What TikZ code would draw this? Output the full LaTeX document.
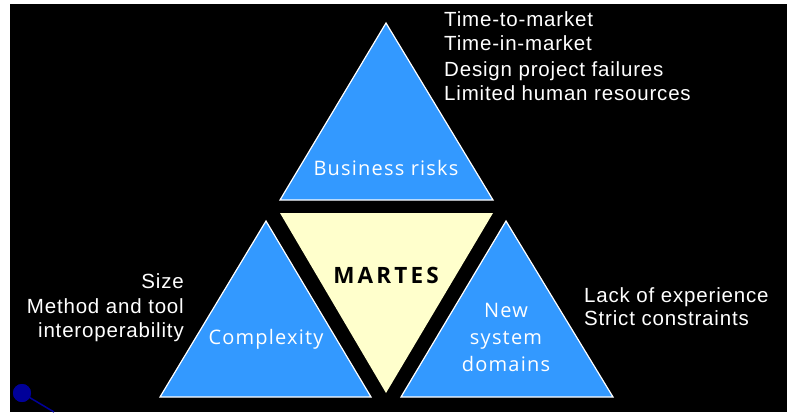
\documentclass[tikz,border=0pt]{standalone}
\usepackage{fontspec}
\setmainfont{Liberation Sans}
\newfontfamily\trifont{Open Sans}
\definecolor{triblue}{HTML}{3399FF}
\definecolor{martesyellow}{HTML}{FFFFCC}
\definecolor{pinblue}{HTML}{000099}
\begin{document}
\begin{tikzpicture}[x=1pt,y=-1pt,
  tri/.style={fill=triblue, draw=white, line width=1.2pt, line join=miter},
  trilabel/.style={text=white, inner sep=0pt, font=\trifont\addfontfeature{LetterSpace=6}\fontsize{20}{24}\selectfont},
  martes/.style={text=black, inner sep=0pt, font=\trifont\bfseries\addfontfeature{LetterSpace=14}\fontsize{22.5}{24}\selectfont},
  listtext/.style={text=white, inner sep=0pt, font=\addfontfeature{LetterSpace=4}\fontsize{20.5}{24}\selectfont}]
\useasboundingbox (0,0) rectangle (789,412);
\fill[white] (0,0) rectangle (789,412);
\fill[black] (10,4) rectangle (787,412);
% triangles
\path[tri] (280,200) -- (386,23) -- (493,200) -- cycle;
\fill[martesyellow] (280,213) -- (493,213) -- (386,393) -- cycle;
\path[tri] (160,397) -- (266,221) -- (371,397) -- cycle;
\path[tri] (401,397) -- (506,221) -- (613,397) -- cycle;
% triangle labels
\node[trilabel, anchor=base] (business) at (386,175) {Business risks};
\node[martes, anchor=base] (martesl) at (386,283) {MARTES};
\node[trilabel, anchor=base] (complexity) at (266,344) {Complexity};
\node[trilabel, anchor=base] (new1) at (506,317) {New};
\node[trilabel, anchor=base] (new2) at (506,344) {system};
\node[trilabel, anchor=base] (new3) at (506,371) {domains};
% top-right list
\node[listtext, anchor=base west] (tr1) at (444,27) {Time-to-market};
\node[listtext, anchor=base west] (tr2) at (444,51) {Time-in-market};
\node[listtext, anchor=base west] (tr3) at (444,76) {Design project failures};
\node[listtext, anchor=base west] (tr4) at (444,100) {Limited human resources};
% left list
\node[listtext, anchor=base east] (l1) at (184,288) {Size};
\node[listtext, anchor=base east] (l2) at (184,313) {Method and tool};
\node[listtext, anchor=base east] (l3) at (184,337) {interoperability};
% right list
\node[listtext, anchor=base west] (r1) at (584,302) {Lack of experience};
\node[listtext, anchor=base west] (r2) at (584,325) {Strict constraints};
% pin
\coordinate (pinend) at (54,412);
\node[circle, fill=pinblue, minimum size=18pt, inner sep=0pt] (pin) at (22,393) {};
\draw[pinblue, line width=1.5pt] (pin.center) -- (pinend);
\fill[pinblue] (pin) circle (9);
\end{tikzpicture}
\end{document}
